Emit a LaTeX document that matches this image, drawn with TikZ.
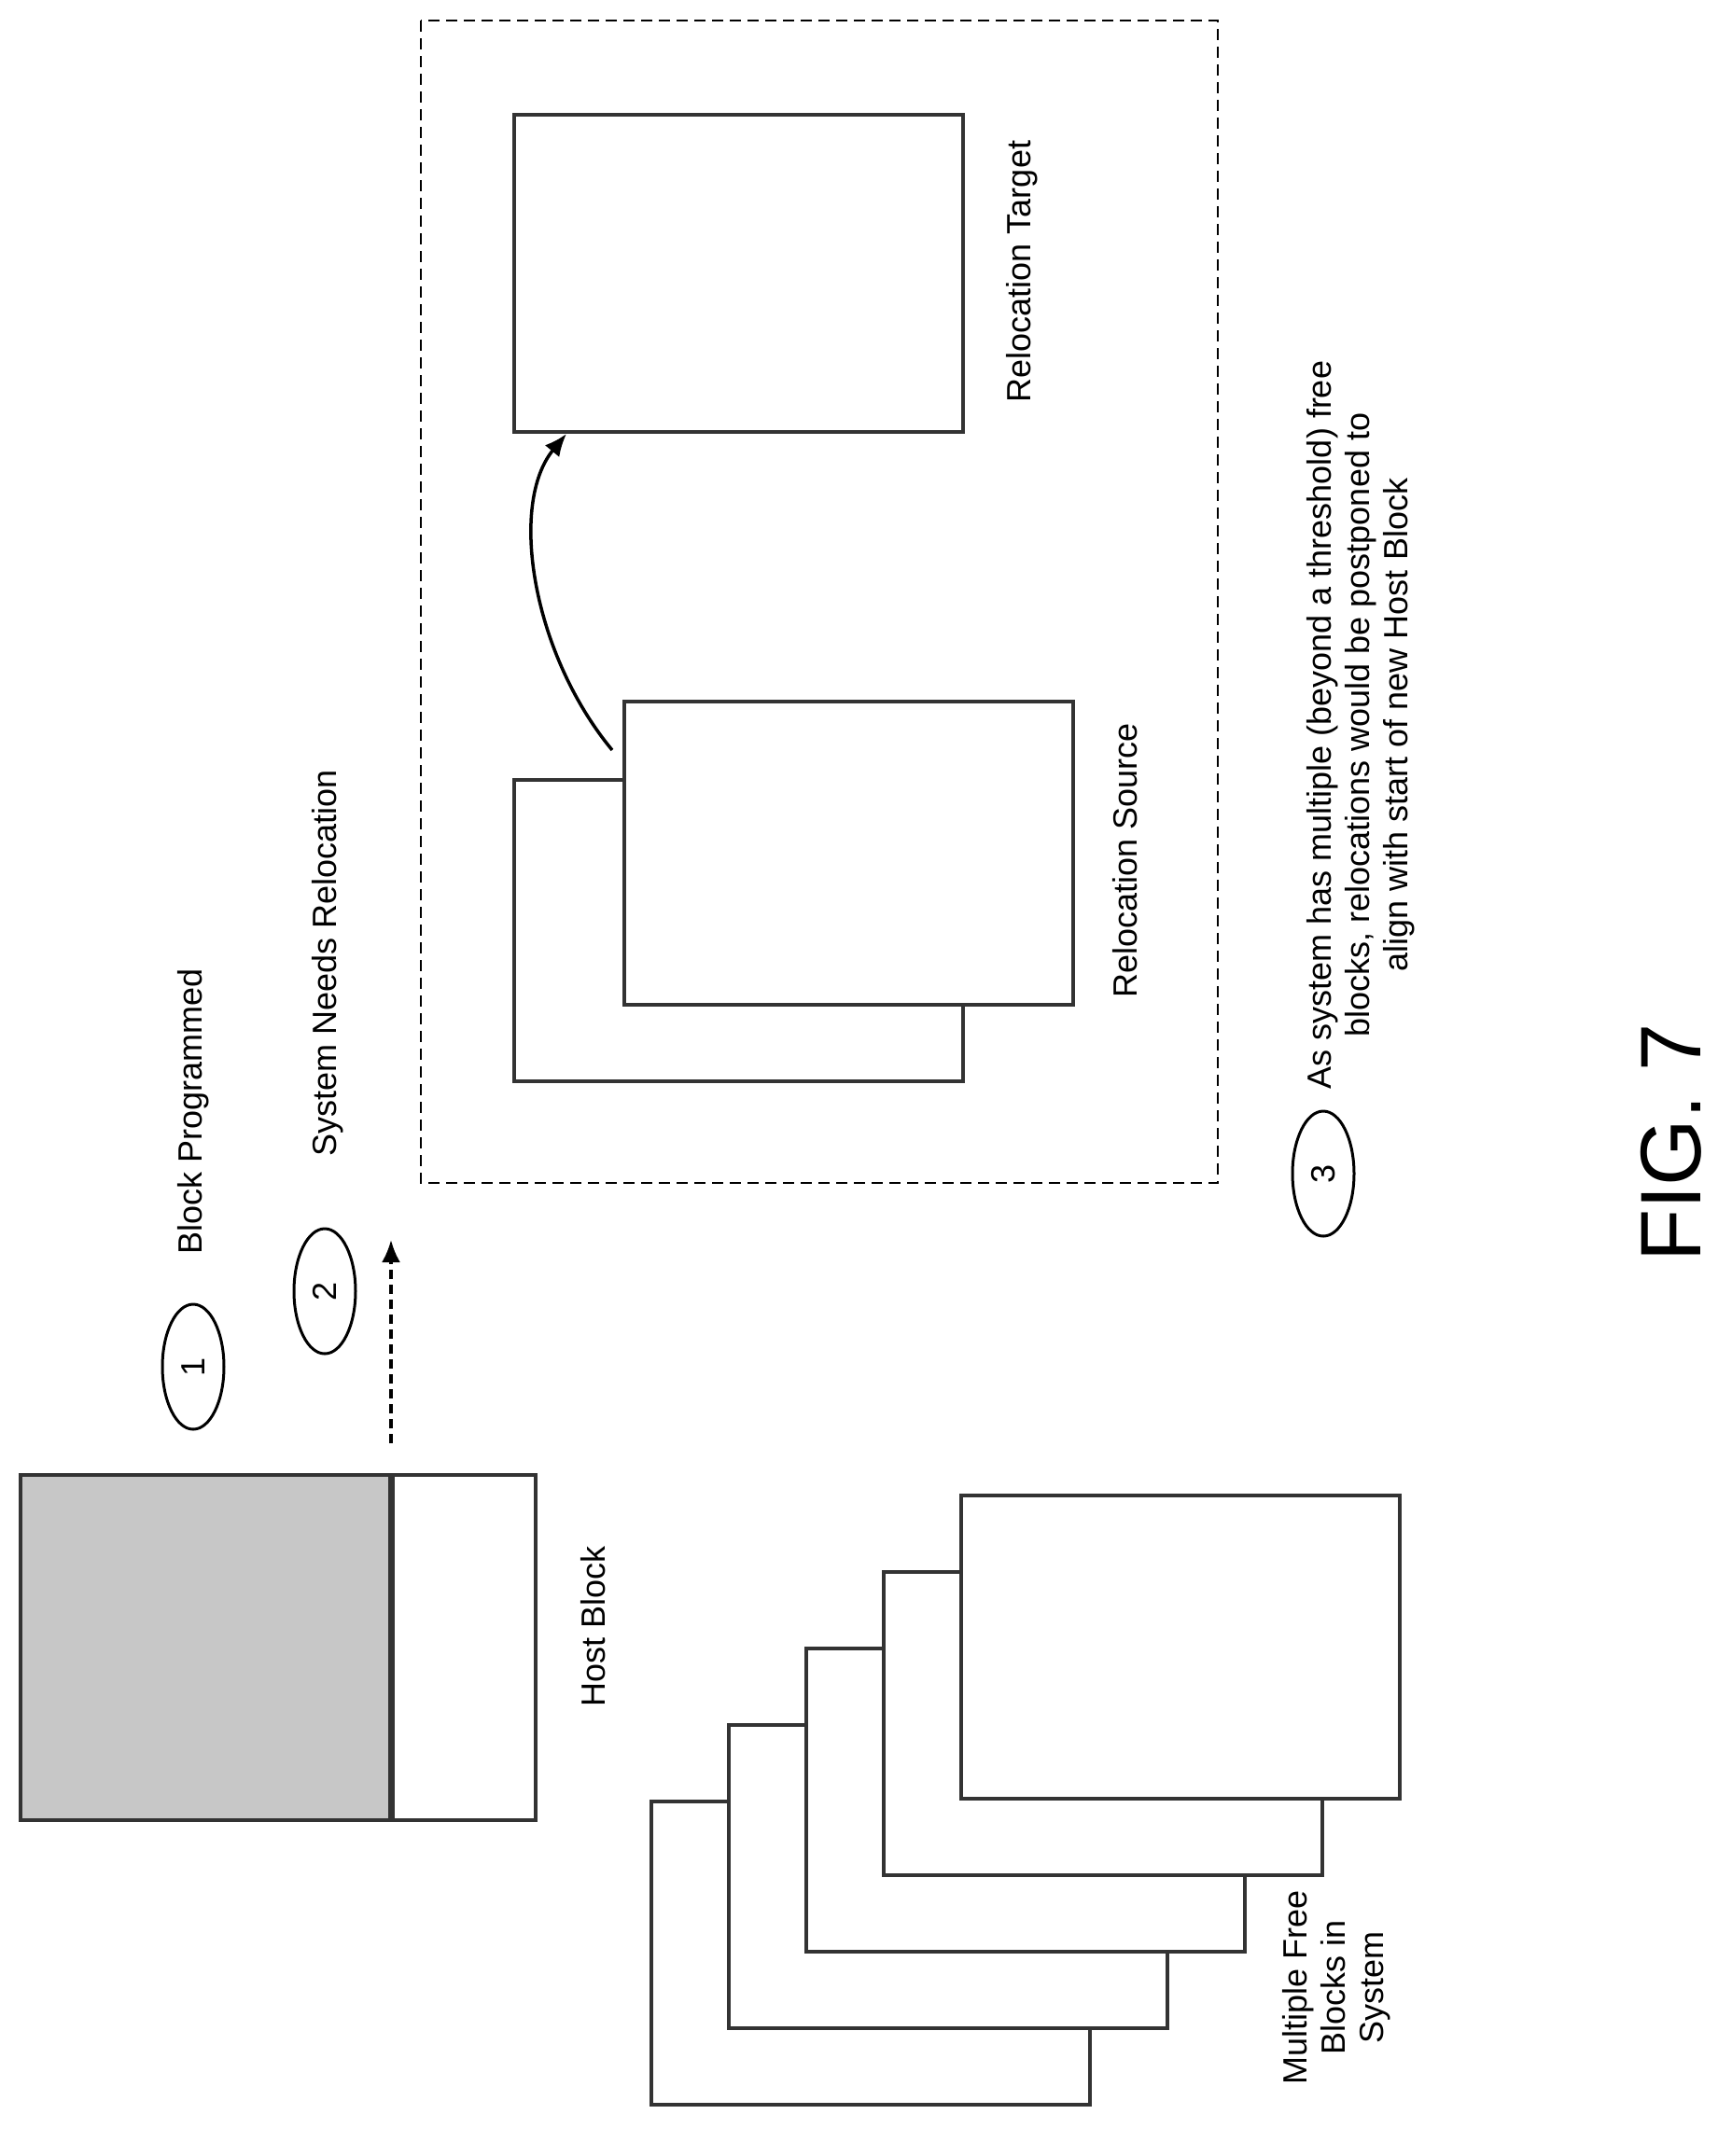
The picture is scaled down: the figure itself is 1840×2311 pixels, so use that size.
\documentclass[tikz,border=0pt]{standalone}
\usepackage{fontspec}
\setmainfont{Liberation Sans}
\usetikzlibrary{shapes.geometric,arrows.meta}
\begin{document}
\begin{tikzpicture}[x=1pt,y=-1pt,
  blk/.style={draw=black!80,line width=4pt,fill=white},
  lbl/.style={rotate=90,font=\fontsize{36}{41}\selectfont,align=center},
  num/.style={draw,line width=3pt,ellipse,minimum width=66pt,minimum height=134pt,inner sep=0pt,font=\fontsize{36}{41}\selectfont},
  arr/.style={line width=3.5pt,-{Latex[length=24pt,width=20pt]}}]
\useasboundingbox (0,0) rectangle (1840,2311);
% free blocks
\foreach \i in {0,...,4}{
  \draw[blk] (698+83*\i,1931-82*\i) rectangle ++(470,325);
}
\node[lbl] (free) at (1432,2130) {Multiple Free\\Blocks in\\System};
% host block
\fill[black!22] (22,1581) rectangle (419,1951);
\draw[blk,fill=none] (22,1581) rectangle (574,1951);
\draw[line width=7pt,black!80] (419,1581) -- (419,1951);
\coordinate (hb) at (419,1547);
\node[lbl] (host) at (636,1743) {Host Block};
% steps
\node[num] (c1) at (207,1465) {\rotatebox{90}{1}};
\node[lbl] (t1) at (207,1191) {Block Programmed};
\node[num] (c2) at (348,1384) {\rotatebox{90}{2}};
\node[lbl] (t2) at (351,1032) {System Needs Relocation};
\coordinate (ae) at (419,1329);
\draw[arr,dash pattern=on 10pt off 6pt] (hb) -- (ae);
% dashed box
\draw[line width=2.5pt,dash pattern=on 12pt off 7pt] (451,22) rectangle (1305,1268);
\draw[blk] (551,836) rectangle (1032,1159);
\draw[blk] (669,752) rectangle (1150,1077);
\node[lbl] (src) at (1206,922) {Relocation Source};
\draw[blk] (551,123) rectangle (1032,463);
\node[lbl] (tgt) at (1095,291) {Relocation Target};
\coordinate (s) at (656,804);
\coordinate (t) at (607,465);
\draw[arr] (s) .. controls (570,700) and (545,540) .. (t);
% step 3
\node[num] (c3) at (1418,1258) {\rotatebox{90}{3}};
\node[lbl] (t3) at (1458,777) {As system has multiple (beyond a threshold) free\\blocks, relocations would be postponed to\\align with start of new Host Block};
\node[rotate=90,font=\fontsize{92}{100}\selectfont] (fig) at (1791,1225) {FIG. 7};
\end{tikzpicture}
\end{document}
